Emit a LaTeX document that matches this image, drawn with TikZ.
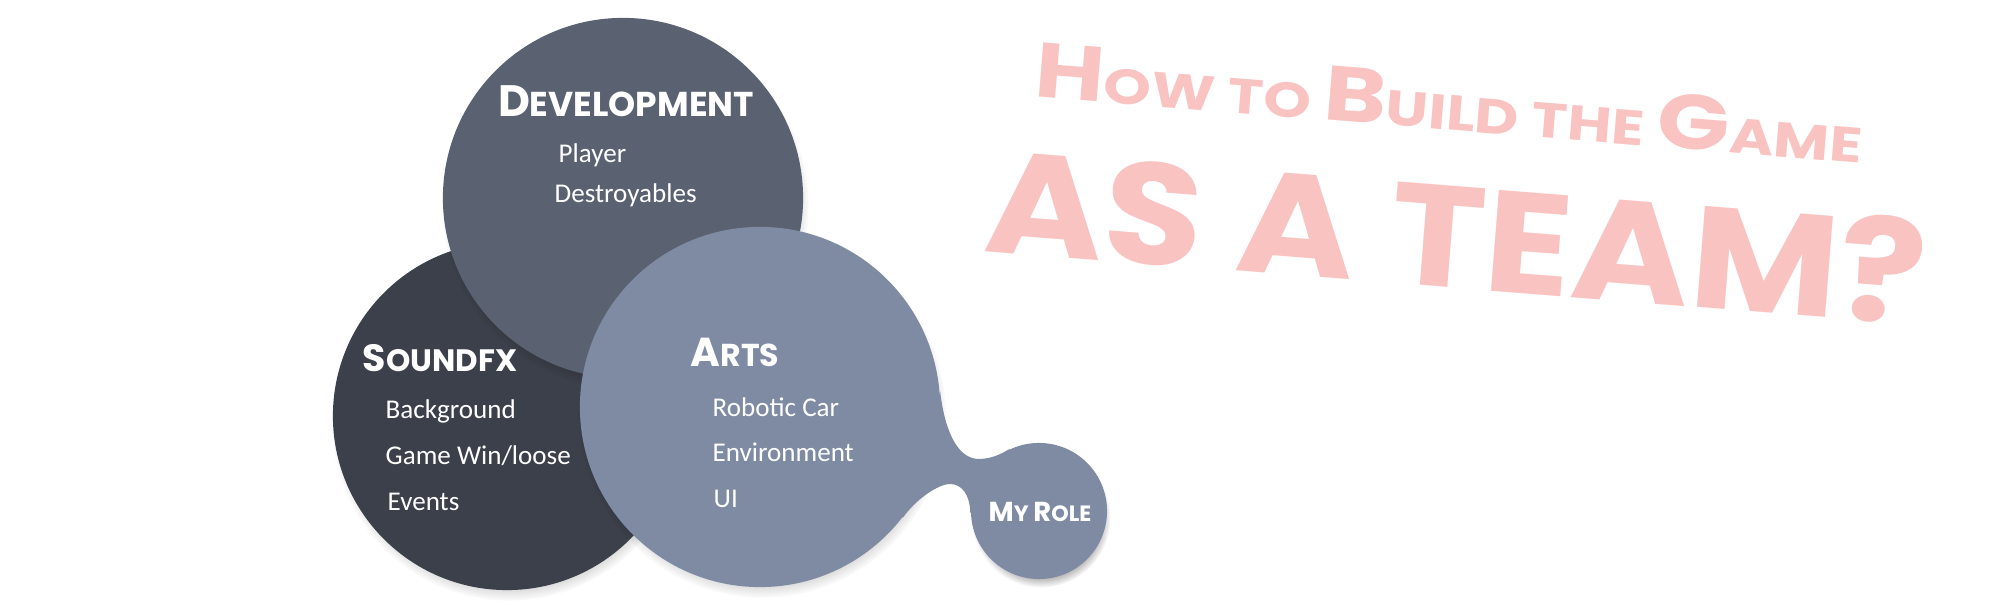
\documentclass[tikz,border=0pt]{standalone}
\usepackage{fontspec}
\setmainfont{Carlito}
\newfontfamily\brushfont{Poppins}
\usetikzlibrary{shadows}

\definecolor{devgray}{HTML}{5A6170}
\definecolor{sfxgray}{HTML}{3C404A}
\definecolor{artsblue}{HTML}{7F8AA3}
\definecolor{titlepink}{HTML}{F9C3C2}

\newcommand{\sccap}[2]{{\fontsize{#1pt}{#1pt}\selectfont #2}}

\tikzset{
    blob/.style={circle, inner sep=0pt, circular drop shadow={shadow xshift=0.02cm, shadow yshift=-0.07cm, shadow scale=1.02, fill=black, opacity=0.3}},
    head/.style={text=white, font=\brushfont\bfseries, anchor=base, inner sep=0pt},
    item/.style={text=white, font=\fontsize{7.7}{7.7}\selectfont, anchor=base west, inner sep=0pt},
    title/.style={text=titlepink, font=\brushfont\bfseries, anchor=base, inner sep=0pt}
}

\begin{document}
\begin{tikzpicture}[x=0.01cm, y=0.01cm]
    \useasboundingbox (0, 0) rectangle (2000, 610);

    \node[blob, fill=sfxgray, minimum size=3.48cm] (sfx) at (507, 194) {};
    \node[blob, fill=devgray, minimum size=3.6cm] (dev) at (623, 412) {};
    \node[blob, fill=artsblue, minimum size=3.6cm] (arts) at (760, 203) {};
    \node[blob, fill=artsblue, minimum size=1.36cm] (role) at (1039, 99) {};

    \fill[artsblue] (arts.5) .. controls (944, 185) and (955, 152) .. (978, 151)
        .. controls (990, 151) and (1000, 155) .. (role.115)
        -- (role.182) .. controls (970, 115) and (962, 126) .. (950, 126)
        .. controls (938, 126) and (915, 110) .. (arts.-38) -- cycle;

    \node[head] (devhead) at (626, 493) {\sccap{12.5}{D}\sccap{9.8}{EVELOPMENT}};
    \node[item] (player) at (558, 447) {Player};
    \node[item] (destroy) at (554, 407) {Destroyables};

    \node[head] (sfxhead) at (440, 238) {\sccap{10.8}{S}\sccap{8.8}{OUNDFX}};
    \node[item] (backgr) at (385, 191) {Background};
    \node[item] (winloose) at (385, 145) {Game Win/loose};
    \node[item] (events) at (387, 99) {Events};

    \node[head] (artshead) at (735, 243) {\sccap{11.5}{A}\sccap{9}{RTS}};
    \node[item] (robocar) at (712, 193) {Robotic Car};
    \node[item] (environ) at (712, 148) {Environment};
    \node[item] (ui) at (713, 102) {UI};

    \node[head] (rolehead) at (1040, 88) {\sccap{7.8}{M}\sccap{6.3}{Y }\sccap{7.8}{R}\sccap{6.3}{OLE}};

    \node[title, rotate=-4.6] (howto) at (1447, 480)
        {\scalebox{1.23}[1]{\sccap{22}{H}\sccap{14}{OW TO }\sccap{22}{B}\sccap{14}{UILD THE }\sccap{22}{G}\sccap{14}{AME}}};
    \node[title, rotate=-4.5] (team) at (1452, 322) {\scalebox{1.12}[1]{\sccap{41}{AS A TEAM?}}};
\end{tikzpicture}
\end{document}
